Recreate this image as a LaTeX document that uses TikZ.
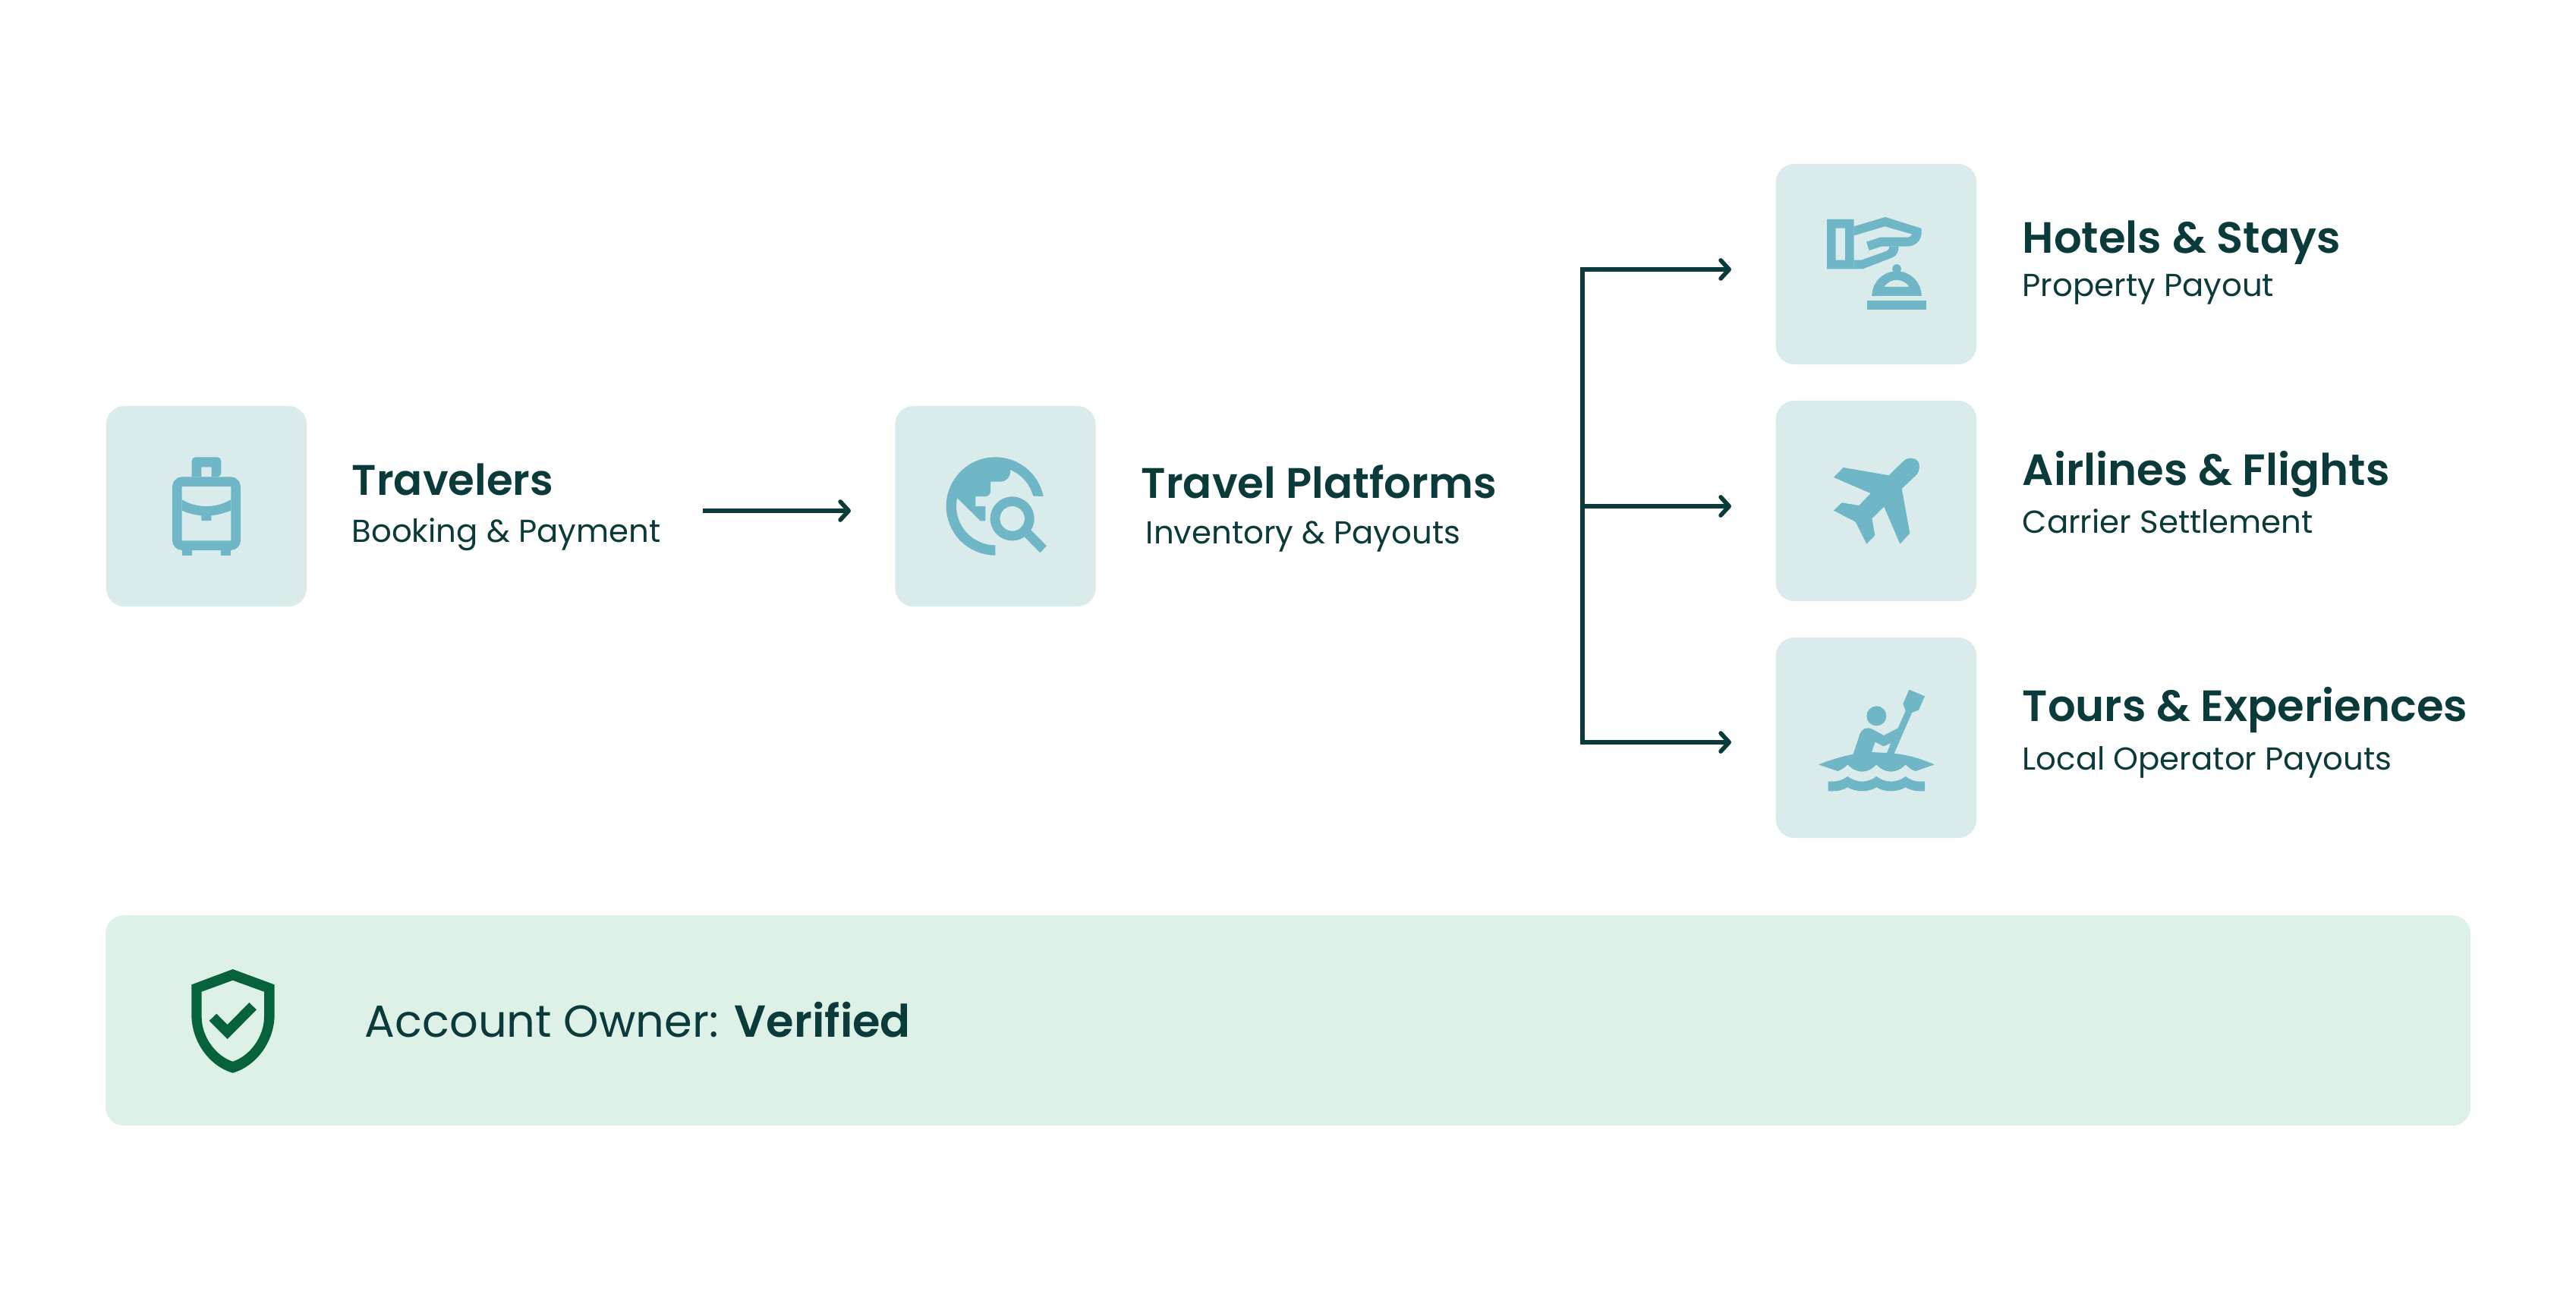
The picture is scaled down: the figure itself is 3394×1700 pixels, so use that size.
\documentclass[tikz,border=0pt]{standalone}
\usepackage{fontspec}
\setmainfont{Poppins}[BoldFont={Poppins SemiBold}]
\usetikzlibrary{arrows.meta}
\definecolor{boxteal}{HTML}{D9EBEA}
\definecolor{iconteal}{HTML}{6FB6C6}
\definecolor{bandgreen}{HTML}{DDF1E6}
\definecolor{shieldgreen}{HTML}{06623B}
\definecolor{inkdark}{HTML}{0B3A3A}
\tikzset{
  iconbox/.style={fill=boxteal,rounded corners=0.24cm,minimum size=2.64cm,inner sep=0pt},
  iconfill/.style={fill=iconteal,even odd rule},
  titletext/.style={anchor=base west,inner sep=0pt,text=inkdark,font=\fontsize{16.4}{20}\selectfont\bfseries},
  lefttitle/.style={titletext,font=\fontsize{16}{20}\selectfont\bfseries},
  subtext/.style={anchor=base west,inner sep=0pt,text=inkdark,font=\fontsize{11.9}{15}\selectfont},
  flowarrow/.style={draw=inkdark,line width=0.057cm,-{Straight Barb[length=0.11cm,width=0.24cm,line width=0.057cm,round]}},
}
\begin{document}
\begin{tikzpicture}[x=0.01cm,y=-0.01cm]
  \useasboundingbox (0,0) rectangle (3394,1700);
  %
  \node[iconbox] (travelers) at (272,667) {};
  \node[lefttitle] (travelersname) at (463,652) {Travelers};
  \node[subtext] (travelerssub) at (463,714) {Booking \& Payment};
  %
  \node[iconbox] (platforms) at (1311.5,667) {};
  \node[lefttitle] (platformsname) at (1503,656) {Travel Platforms};
  \node[subtext] (platformssub) at (1509,716) {Inventory \& Payouts};
  %
  \node[iconbox] (hotels) at (2472,348) {};
  \node[titletext] (hotelsname) at (2664,333) {Hotels \& Stays};
  \node[subtext] (hotelssub) at (2664,390) {Property Payout};
  %
  \node[iconbox] (airlines) at (2472,660) {};
  \node[titletext] (airlinesname) at (2664,639) {Airlines \& Flights};
  \node[subtext] (airlinessub) at (2664,702) {Carrier Settlement};
  %
  \node[iconbox] (tours) at (2472,972) {};
  \node[titletext] (toursname) at (2664,950) {Tours \& Experiences};
  \node[subtext] (tourssub) at (2664,1014) {Local Operator Payouts};
  %
  \node[fill=bandgreen,rounded corners=0.24cm,minimum width=31.14cm,minimum height=2.77cm,inner sep=0pt] (ownerband) at (1697,1344.5) {};
  \node[anchor=base west,inner sep=0pt,text=inkdark,font=\fontsize{16.8}{22}\selectfont] (ownertext) at (480,1366) {Account Owner: \textbf{Verified}};
  %
  % connectors
  \coordinate (traveltail) at (926,673);
  \coordinate (platformhead) at (1121,673);
  \coordinate (trunkmid) at (2085,667);
  \coordinate (hotelshead) at (2281,355);
  \coordinate (airlineshead) at (2281,667);
  \coordinate (tourshead) at (2281,978);
  \draw[flowarrow] (traveltail) -- (platformhead);
  \draw[flowarrow] (trunkmid) |- (hotelshead);
  \draw[flowarrow] (trunkmid) -- (airlineshead);
  \draw[flowarrow] (trunkmid) |- (tourshead);
  %
  % suitcase
  \begin{scope}[shift={(130,520)},scale=1/3]
    \fill[iconfill] [rounded corners=0.13cm] (291,325) rectangle (561,615) [sharp corners] (329,363) rectangle (523,577);
    \fill[iconfill] [rounded corners=0.05cm] (368,325) -- (368,247) -- (484,247) -- (484,325) [sharp corners] -- cycle (406,286) rectangle (446,325);
    \fill[iconfill] (329,415) .. controls (390,450) and (460,450) .. (523,415) -- (523,458) .. controls (498,468) and (470,475) .. (445,478) -- (445,498) -- (406,498) -- (406,478) .. controls (380,475) and (350,468) .. (329,458) -- cycle;
    \fill[iconfill] (329,615) rectangle (368,635);
    \fill[iconfill] (484,615) rectangle (523,635);
  \end{scope}
  %
  % globe
  \begin{scope}[shift={(1170,520)},scale=1/3]
    \fill[iconfill] (614,402) arc (-11.6:-270:194) -- (424,595) arc (-270:-167.7:154) -- (365,499) -- (385,499) -- (385,441) -- (346,441) -- (346,402) -- (385,402) .. controls (396,402) and (405,393) .. (405,382) -- (405,344) -- (445,344) .. controls (466,344) and (483,327) .. (483,305) -- (483,297) arc (-67.7:-14.7:154) -- cycle;
    \fill[iconfill] (491,490) circle (87) circle (49);
    \fill[iconfill] (565,535) -- (627,598) -- (601,625) -- (540,563) -- cycle;
  \end{scope}
  %
  % hand and bell
  \begin{scope}[shift={(2330,200)},scale=1/3]
    \fill[iconfill] (231,267) rectangle (338,463) (266,302) rectangle (303,428);
    \fill[iconfill] (338,295) -- (462,258) -- (605,303) -- (605,320) .. controls (605,350) and (580,374) .. (550,374) -- (447,374) -- (398,390) -- (387,356) -- (443,338) -- (550,338) .. controls (558,338) and (565,333) .. (568,326) -- (460,295) -- (338,331) -- cycle;
    \fill[iconfill] (478,374) -- (515,374) .. controls (515,395) and (505,412) .. (490,418) -- (373,463) -- (338,463) -- (338,428) -- (367,428) -- (468,392) .. controls (475,389) and (478,382) .. (478,374) -- cycle;
    \fill[iconfill] (409,570) .. controls (409,516) and (453,472) .. (507,472) .. controls (561,472) and (605,516) .. (605,570) -- cycle (457,534) .. controls (470,515) and (488,507) .. (507,507) .. controls (526,507) and (544,515) .. (556,534) -- cycle;
    \fill[iconfill] (507,462) circle (17.5);
    \fill[iconfill] (391,587) rectangle (623,623);
  \end{scope}
  %
  % plane
  \begin{scope}[shift={(2330,520)},scale=1/3]
    \fill[iconfill] (476,319) -- (533,263) .. controls (550,246) and (578,248) .. (590,262) .. controls (600,275) and (598,300) .. (587,315) -- (527,372) -- (559,548) -- (520,590) -- (457,443) -- (409,490) -- (421,556) -- (388,590) -- (344,503) -- (258,458) -- (290,427) -- (358,438) -- (404,390) -- (258,327) -- (296,288) -- cycle;
  \end{scope}
  %
  % kayak
  \begin{scope}[shift={(2330,830)},scale=1/3]
    \fill[iconfill] (427,340) circle (39);
    \fill[iconfill] (198,532) .. controls (245,514) and (290,500) .. (335,491) -- (360,415) .. controls (368,390) and (390,382) .. (410,392) -- (456,417) -- (512,388) -- (542,320) -- (532,292) -- (556,236) -- (618,262) -- (594,316) -- (567,327) -- (497,488) .. controls (560,495) and (610,512) .. (656,532) -- (582,558) .. controls (568,555) and (555,545) .. (542,532) .. controls (525,550) and (505,560) .. (484,560) .. controls (463,560) and (443,550) .. (427,532) .. controls (410,550) and (390,560) .. (370,560) .. controls (350,560) and (330,550) .. (313,532) .. controls (300,545) and (288,553) .. (274,558) -- cycle (422,443) -- (455,460) -- (484,447) -- (468,486) -- (408,483) -- cycle;
    \fill[iconfill] (236,599) -- (256,599) .. controls (278,599) and (298,590) .. (313,579) .. controls (330,592) and (350,599) .. (370,599) .. controls (390,599) and (410,592) .. (427,579) .. controls (444,592) and (464,599) .. (484,599) .. controls (504,599) and (526,592) .. (542,579) .. controls (558,592) and (578,599) .. (598,599) -- (618,599) -- (618,637) -- (598,637) .. controls (578,637) and (558,632) .. (542,622) .. controls (525,632) and (505,637) .. (484,637) .. controls (463,637) and (443,632) .. (427,622) .. controls (410,632) and (390,637) .. (370,637) .. controls (350,637) and (330,632) .. (313,622) .. controls (298,632) and (278,637) .. (256,637) -- (236,637) -- cycle;
  \end{scope}
  %
  % shield
  \begin{scope}[shift={(200,1240)},scale=1/3]
    \fill[fill=shieldgreen,even odd rule] (320,111) -- (485,172) -- (485,290) .. controls (485,400) and (410,495) .. (320,521) .. controls (230,495) and (157,400) .. (157,290) -- (157,172) -- cycle (320,155) -- (444,200) -- (444,300) .. controls (444,380) and (385,455) .. (320,476) .. controls (255,455) and (197,380) .. (197,300) -- (197,200) -- cycle;
    \fill[shieldgreen] (385,243) -- (414,271) -- (299,387) -- (227,315) -- (256,287) -- (299,330) -- cycle;
  \end{scope}
\end{tikzpicture}
\end{document}
